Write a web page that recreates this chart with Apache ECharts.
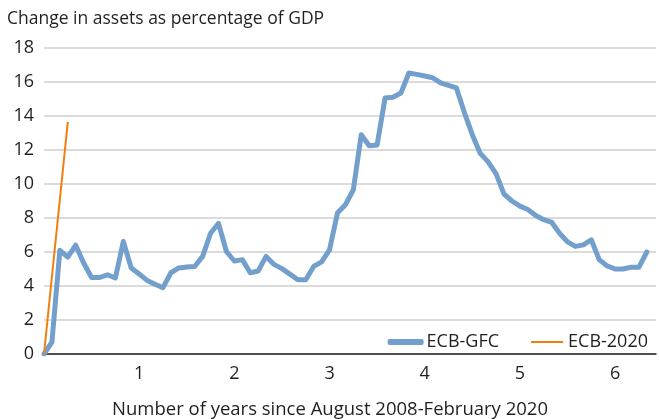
<!DOCTYPE html>
<html>
<head>
<meta charset="utf-8">
<script src="https://cdn.jsdelivr.net/npm/echarts@6/dist/echarts.min.js"></script>
<style>
  html, body { margin: 0; padding: 0; background: #fff; }
  #chart { width: 659px; height: 419px; }
</style>
</head>
<body>
<div id="chart"></div>
<script>
(function () {

    // monthly values, month 0 = start of episode
    var gfcValues = [
        0, 0.7, 6.1, 5.7, 6.4, 5.35, 4.5, 4.5, 4.66, 4.47,
        6.62, 5.06, 4.7, 4.33, 4.1, 3.9, 4.78, 5.06, 5.12, 5.15,
        5.74, 7.1, 7.68, 6.03, 5.47, 5.55, 4.78, 4.88, 5.74, 5.27,
        5.02, 4.7, 4.37, 4.37, 5.15, 5.42, 6.13, 8.29, 8.78, 9.66,
        12.9, 12.25, 12.3, 15.06, 15.1, 15.35, 16.53, 16.45, 16.35, 16.25,
        15.95, 15.8, 15.65, 14.2, 12.9, 11.8, 11.3, 10.6, 9.4, 9.0,
        8.7, 8.5, 8.15, 7.9, 7.75, 7.1, 6.6, 6.33, 6.42, 6.72,
        5.55, 5.18, 5.0, 5.0, 5.1, 5.1, 6.0
    ];
    var covidMonths = [0, 3];
    var covidValues = [0, 13.65];
    var yearTicks = ['1', '2', '3', '4', '5', '6'];

    var chart = echarts.init(document.getElementById('chart'));
    var font = 'Open Sans';
    var ink = '#231f20';
    var blue = '#729fcb', orange = '#f07f10';

    var gfcData = gfcValues.map(function (v, i) { return [i / 12, v]; });
    var covidData = covidValues.map(function (v, i) { return [covidMonths[i] / 12, v]; });

    chart.setOption({
        backgroundColor: '#fff',
        animation: false,
        title: {
            text: 'Change in assets as percentage of GDP',
            left: 2,
            top: 5,
            textStyle: { fontFamily: font, fontSize: 17.5, fontWeight: 'normal', color: ink }
        },
        grid: { left: 44, right: 3, top: 48, bottom: 65, outerBoundsMode: 'none' },
        legend: {
            right: 6,
            top: 328,
            itemGap: 32,
            itemWidth: 32,
            itemHeight: 2,
            textStyle: { fontFamily: font, fontSize: 18, color: ink },
            data: [
                { name: 'ECB-GFC', icon: 'rect',
                  itemStyle: { color: blue, borderColor: blue, borderWidth: 4, borderJoin: 'round' } },
                { name: 'ECB-2020', icon: 'rect',
                  itemStyle: { color: orange, borderWidth: 0 } }
            ]
        },
        xAxis: {
            type: 'value',
            min: 0,
            max: 6.43,
            interval: 1,
            name: 'Number of years since August 2008-February 2020',
            nameLocation: 'middle',
            nameGap: 46,
            nameTextStyle: { fontFamily: font, fontSize: 18.5, color: ink, padding: [0, 40, 0, 0] },
            axisLine: { lineStyle: { color: ink, width: 1.5 } },
            axisTick: { show: false },
            splitLine: { show: false },
            axisLabel: {
                showMinLabel: false,
                showMaxLabel: false,
                margin: 11,
                fontFamily: font,
                fontSize: 18,
                color: ink,
                formatter: function (v) {
                    var s = String(Math.round(v));
                    return yearTicks.indexOf(s) >= 0 ? s : '';
                }
            }
        },
        yAxis: {
            type: 'value',
            min: 0,
            max: 18,
            interval: 2,
            axisLine: { show: false },
            axisTick: { show: false },
            splitLine: { lineStyle: { color: '#cfcfcf', width: 1.5 } },
            axisLabel: { margin: 10, fontFamily: font, fontSize: 18, color: ink }
        },
        series: [
            {
                name: 'ECB-GFC',
                type: 'line',
                data: gfcData,
                symbol: 'none',
                lineStyle: { color: blue, width: 5, cap: 'round', join: 'round' },
                itemStyle: { color: blue },
                z: 2
            },
            {
                name: 'ECB-2020',
                type: 'line',
                data: covidData,
                symbol: 'none',
                lineStyle: { color: orange, width: 2 },
                itemStyle: { color: orange },
                z: 3
            }
        ]
    });

})();
</script>
</body>
</html>
